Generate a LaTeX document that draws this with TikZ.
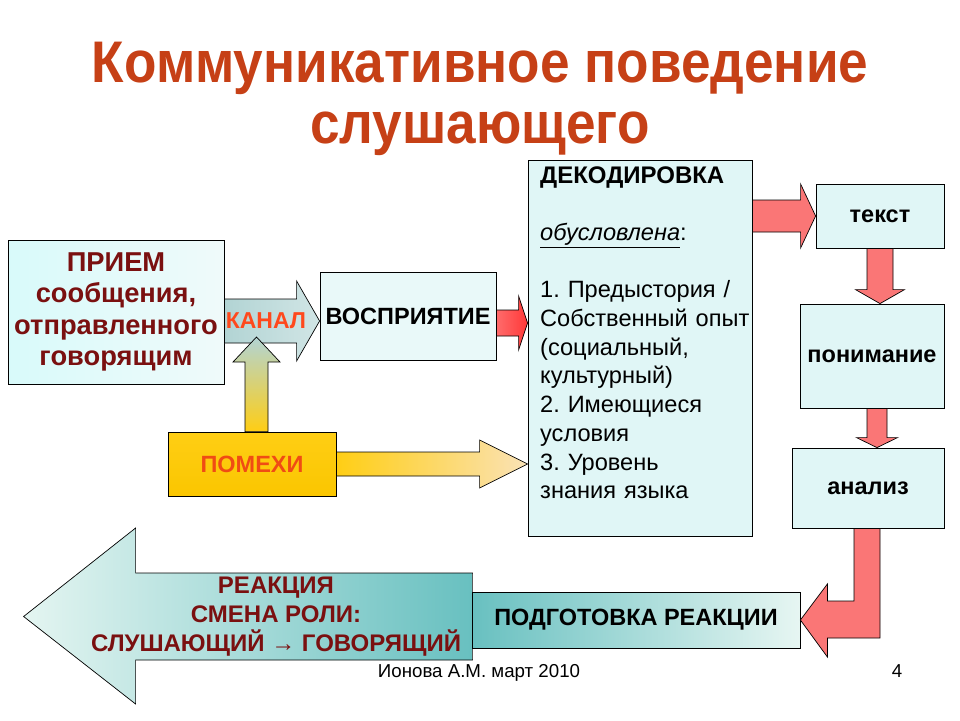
\documentclass[tikz,border=0pt]{standalone}
\usepackage{fontspec}
\setmainfont{Liberation Sans}
\newfontfamily\titlefont[FakeStretch=0.905]{Liberation Sans}
\usetikzlibrary{calc}
\frenchspacing
\definecolor{titlecol}{RGB}{198,64,22}
\definecolor{darkred}{RGB}{122,16,16}
\definecolor{kanalcol}{RGB}{255,72,28}
\definecolor{pomcol}{RGB}{240,76,20}
\definecolor{boxfill}{RGB}{224,246,246}
\definecolor{redar}{RGB}{250,118,118}
\definecolor{tealL}{RGB}{228,245,241}
\definecolor{tealD}{RGB}{104,192,192}
\definecolor{greyteal}{RGB}{178,212,212}
\definecolor{goldA}{RGB}{255,206,20}
\definecolor{goldB}{RGB}{250,198,0}
\definecolor{peach}{RGB}{250,226,182}
\newcommand\blockarrow[6]{%
  \coordinate (bahead) at ($#3!#6!#2$);
  \path[#1] ($#2!#4!90:#3$) -- ($(bahead)!#4!90:#3$) -- ($(bahead)!#5!90:#3$) -- #3
    -- ($(bahead)!#5!-90:#3$) -- ($(bahead)!#4!-90:#3$) -- ($#2!#4!-90:#3$) -- cycle;}
\tikzset{
  boxnode/.style={draw=black, line width=0.8pt, fill=boxfill, inner sep=0pt, align=center},
  boxtext/.style={font=\bfseries\fontsize{23.5}{28}\selectfont},
  arline/.style={draw=black, line width=0.7pt},
  redarrow/.style={arline, fill=redar},
}
\begin{document}
\begin{tikzpicture}[x=1pt,y=-1pt]
\useasboundingbox[fill=white] (0,0) rectangle (960,720);
% title
\node[anchor=base, text=titlecol, font=\titlefont\bfseries\fontsize{58.7}{62}\selectfont] (titleA) at (480,82) {Коммуникативное поведение};
\node[anchor=base, text=titlecol, font=\titlefont\bfseries\fontsize{58.7}{62}\selectfont] (titleB) at (480,143) {слушающего};
% boxes
\node[boxnode, minimum width=216, minimum height=144, left color=boxfill!85!cyan!60!white, right color=boxfill!50!white, text=darkred, font=\bfseries\fontsize{27.3}{31.3}\selectfont] (priem) at (116,312) {ПРИЕМ\\сообщения,\\отправленного\\говорящим};
\node[boxnode, minimum width=176, minimum height=88, fill=boxfill!70!white, boxtext] (vospr) at (408,316) {ВОСПРИЯТИЕ};
\node[boxnode, minimum width=224, minimum height=376] (dekod) at (640,348) {};
\node[boxnode, minimum width=128, minimum height=64, boxtext] (tekst) at (880,216) {текст};
\node[boxnode, minimum width=144, minimum height=104, boxtext] (ponim) at (872,356) {понимание};
\node[boxnode, minimum width=152, minimum height=80, boxtext] (analiz) at (868,488) {анализ};
\node[boxnode, minimum width=168, minimum height=64, top color=goldA, bottom color=goldB, text=pomcol, boxtext] (pomehi) at (252,464) {ПОМЕХИ};
\node[boxnode, minimum width=328, minimum height=56, left color=tealD, right color=tealL!90!white, boxtext] (podg) at (636,620) {ПОДГОТОВКА РЕАКЦИИ};
% decoding text
\node[anchor=base west, text width=214, align=left, inner sep=0pt, font=\fontsize{23.6}{28.7}\selectfont] (dekodtxt) at (540,183)
  {{\bfseries\fontsize{24}{28.7}\selectfont ДЕКОДИРОВКА}\\[28.7pt]
   \underline{\textit{обусловлена}}:\\[28.7pt]
   1. Предыстория /\\
   Собственный опыт\\
   (социальный,\\
   культурный)\\
   2. Имеющиеся\\
   условия\\
   3. Уровень\\
   знания языка};
% KANAL arrow
\coordinate (kS) at ($(priem.east)+(0,9)$);
\blockarrow{arline, left color=greyteal, right color=greyteal!60!white}{(kS)}{(vospr.west |- kS)}{22pt}{40pt}{23pt}
% vospr -> dekod
\coordinate (vS) at ($(vospr.east)+(0,7)$);
\blockarrow{arline, left color=red!58!white, right color=red!78!white}{(vS)}{(dekod.west |- vS)}{13pt}{27pt}{9pt}
% dekod -> tekst
\coordinate (dS) at (dekod.east |- tekst.west);
\blockarrow{redarrow}{(dS)}{(tekst.west)}{16pt}{32pt}{15pt}
% tekst -> ponim
\coordinate (tS) at (tekst.south);
\blockarrow{redarrow}{(tS)}{(tS |- ponim.north)}{13pt}{24.5pt}{14pt}
% ponim -> analiz
\coordinate (pS) at ($(ponim.south)+(5,0)$);
\blockarrow{redarrow}{(pS)}{(pS |- analiz.north)}{10pt}{20.5pt}{10pt}
% pomehi -> dekod
\blockarrow{arline, left color=goldA, right color=peach}{(pomehi.east)}{(dekod.west |- pomehi.east)}{12pt}{24pt}{48pt}
% pomehi -> kanal
\coordinate (uS) at ($(pomehi.north)+(4.5,0)$);
\coordinate (uT) at ($(uS |- kS)+(0,16)$);
\blockarrow{arline, bottom color=goldA, top color=greyteal}{(uS)}{(uT)}{11.5pt}{23.5pt}{25pt}
% analiz -> podg (bent)
\coordinate (bA) at ($(analiz.south)+(-1,0)$);
\path[redarrow] ($(bA)+(-13,0)$) -- ($(bA)+(13,0)$) -- ($(bA |- podg.east)+(13,18)$)
  -- ($(podg.east)+(27,18)$) -- ($(podg.east)+(27,37)$) -- (podg.east)
  -- ($(podg.east)+(27,-36)$) -- ($(podg.east)+(27,-19)$) -- ($(bA |- podg.east)+(-13,-19)$) -- cycle;
% big reaction arrow
\coordinate (bigR) at ($(podg.west)+(1,-3.5)$);
\path[arline, left color=tealL, right color=tealD] (bigR) ++(0,-43.5) -- ++(-337,0) -- ++(0,-45)
  -- ($(bigR)+(-449,0)$) -- ($(bigR)+(-337,87.5)$) -- ++(0,-44) -- ($(bigR)+(0,43.5)$) -- cycle;
\node[text=darkred, align=center, font=\bfseries\fontsize{24}{29}\selectfont] (reakc) at (276,617)
  {РЕАКЦИЯ\\СМЕНА РОЛИ:\\СЛУШАЮЩИЙ → ГОВОРЯЩИЙ};
% KANAL label
\node[text=kanalcol, font=\bfseries\fontsize{23}{25}\selectfont, inner sep=0pt] (kanal) at (266,321) {КАНАЛ};
% footer
\node[anchor=base, font=\fontsize{18.7}{22}\selectfont, inner sep=0pt] (footer) at (479,677) {Ионова А.М. март 2010};
\node[anchor=base, font=\fontsize{18.7}{22}\selectfont, inner sep=0pt] (pagenum) at (897,677) {4};
\end{tikzpicture}
\end{document}
